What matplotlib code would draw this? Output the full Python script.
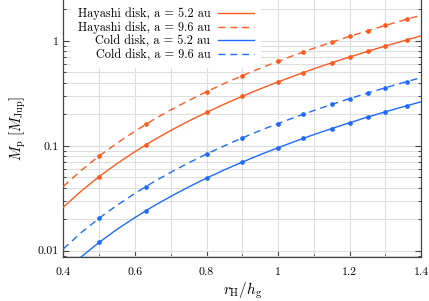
import matplotlib
matplotlib.use("Agg")
import matplotlib.pyplot as plt
from matplotlib.ticker import FixedLocator, LogLocator, NullFormatter, FixedFormatter

plt.rcParams['font.family'] = ['cmr10', 'DejaVu Serif']
plt.rcParams['mathtext.fontset'] = 'cm'
plt.rcParams['axes.formatter.use_mathtext'] = True
plt.rcParams['axes.unicode_minus'] = False

# curve sample points
x_line = [0.40, 0.45, 0.50, 0.55, 0.60, 0.65, 0.70, 0.75, 0.80, 0.85, 0.90,
          0.95, 1.00, 1.05, 1.10, 1.15, 1.20, 1.25, 1.30, 1.35, 1.40]
hay52_line = [0.0260, 0.0371, 0.0509, 0.0677, 0.0879, 0.112, 0.140, 0.172, 0.208, 0.250, 0.297,
              0.349, 0.407, 0.471, 0.542, 0.619, 0.703, 0.795, 0.894, 1.00, 1.12]
hay96_line = [0.0410, 0.0583, 0.0800, 0.106, 0.138, 0.176, 0.220, 0.270, 0.328, 0.393, 0.467,
              0.549, 0.640, 0.741, 0.852, 0.973, 1.106, 1.25, 1.406, 1.575, 1.756]
cold52_line = [0.00614, 0.00875, 0.0120, 0.0160, 0.0207, 0.0264, 0.0329, 0.0405, 0.0492, 0.0590, 0.0700,
               0.0823, 0.0960, 0.111, 0.128, 0.146, 0.166, 0.188, 0.211, 0.236, 0.263]
cold96_line = [0.0104, 0.0149, 0.0204, 0.0271, 0.0352, 0.0448, 0.0559, 0.0688, 0.0835, 0.100, 0.119,
               0.140, 0.163, 0.189, 0.217, 0.248, 0.282, 0.318, 0.358, 0.401, 0.447]

# marker points
x_pts = [0.50, 0.63, 0.80, 0.90, 1.00, 1.07, 1.15, 1.20, 1.25, 1.30, 1.36]
hay52_pts = [0.0509, 0.102, 0.208, 0.297, 0.407, 0.499, 0.619, 0.703, 0.795, 0.894, 1.02]
hay96_pts = [0.0800, 0.160, 0.328, 0.467, 0.640, 0.784, 0.973, 1.106, 1.25, 1.406, 1.61]
cold52_pts = [0.0120, 0.0240, 0.0492, 0.0700, 0.0960, 0.118, 0.146, 0.166, 0.188, 0.211, 0.241]
cold96_pts = [0.0204, 0.0408, 0.0835, 0.119, 0.163, 0.200, 0.248, 0.282, 0.318, 0.358, 0.410]

labels = ["Hayashi disk, a = 5.2 au", "Hayashi disk, a = 9.6 au",
          "Cold disk, a = 5.2 au", "Cold disk, a = 9.6 au"]

orange = '#ff5a1f'
blue = '#1f6bff'

fig = plt.figure(figsize=(4.29, 3.01), dpi=100)
ax = fig.add_axes([0.1476, 0.1472, 0.8344, 0.8513])

series = [(hay52_line, hay52_pts, orange, '-'),
          (hay96_line, hay96_pts, orange, '--'),
          (cold52_line, cold52_pts, blue, '-'),
          (cold96_line, cold96_pts, blue, '--')]
for (yl, yp, c, ls), lab in zip(series, labels):
    kw = dict(dashes=(5, 3.5)) if ls == '--' else {}
    ax.plot(x_line, yl, color=c, lw=1.0, ls=ls, label=lab, zorder=3, **kw)
    ax.plot(x_pts, yp, 'o', color=c, ms=3.4, mew=0, zorder=4)

ax.set_yscale('log')
ax.set_xlim(0.4, 1.4)
ax.set_ylim(0.00877, 2.43)

ax.xaxis.set_major_locator(FixedLocator([0.4, 0.6, 0.8, 1.0, 1.2, 1.4]))
ax.xaxis.set_major_formatter(FixedFormatter(['0.4', '0.6', '0.8', '1', '1.2', '1.4']))
ax.xaxis.set_minor_locator(FixedLocator([0.5, 0.7, 0.9, 1.1, 1.3]))
ax.yaxis.set_major_locator(FixedLocator([0.01, 0.1, 1]))
ax.yaxis.set_major_formatter(FixedFormatter(['0.01', '0.1', '1']))
ax.yaxis.set_minor_locator(LogLocator(base=10, subs=range(2, 10)))
ax.yaxis.set_minor_formatter(NullFormatter())

ax.grid(True, which='both', color='#dedede', lw=0.8, zorder=0)
ax.set_axisbelow(True)
for s in ax.spines.values():
    s.set_color('#444444')
    s.set_linewidth(0.9)
ax.spines['top'].set_visible(False)
ax.tick_params(which='both', direction='in', right=True, top=False, colors='#444444',
               labelcolor='black', labelsize=8.5)
ax.tick_params(which='major', length=4, width=0.8)
ax.tick_params(which='minor', length=2.5, width=0.7)
ax.tick_params(axis='x', pad=8)

ax.set_xlabel(r'$r_\mathrm{H}/h_\mathrm{g}$', fontsize=11, labelpad=2)
ax.set_ylabel(r'$M_\mathrm{p}\ [M_\mathrm{Jup}]$', fontsize=10.5, labelpad=7)

leg = ax.legend(loc='upper right', bbox_to_anchor=(0.552, 1.0), markerfirst=False,
                frameon=True, fontsize=8.8, handlelength=3.0, labelspacing=0.12,
                borderaxespad=0, borderpad=0.55, handletextpad=0.6, fancybox=False)
leg.get_frame().set_edgecolor('none')
leg.get_frame().set_facecolor('white')
leg.get_frame().set_alpha(1.0)
for t in leg.get_texts():
    t.set_ha('right')

fig.savefig('out.png', dpi=100)
